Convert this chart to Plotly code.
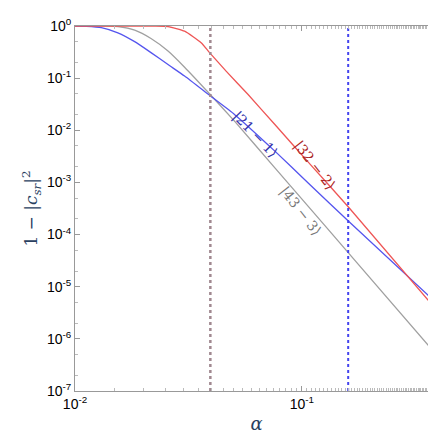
import plotly.graph_objects as go

blue_xlog = [-2.0, -1.95, -1.884, -1.811, -1.737, -1.665, -1.59, -1.517, -1.407, -1.296, -1.119, -0.97, -0.793, -0.4]
blue_log = [0.0, -0.005, -0.03, -0.13, -0.30, -0.51, -0.74, -0.96, -1.33, -1.70, -2.40, -3.02, -3.75, -5.34]
gray_xlog = [-2.0, -1.85, -1.811, -1.737, -1.665, -1.59, -1.517, -1.407, -1.296, -1.119, -0.97, -0.793, -0.4]
gray_log = [0.0, 0.0, -0.01, -0.08, -0.24, -0.48, -0.79, -1.30, -1.83, -2.72, -3.47, -4.36, -6.34]
red_xlog = [-2.0, -1.65, -1.59, -1.517, -1.444, -1.407, -1.333, -1.238, -1.119, -0.97, -0.793, -0.4]
red_log = [0.0, 0.0, -0.01, -0.10, -0.32, -0.51, -0.87, -1.31, -1.89, -2.62, -3.48, -5.48]
vlines = [0.0395, 0.16]
ytick_exp = [0, -1, -2, -3, -4, -5, -6, -7]
xtick_exp = [-2, -1]

fig = go.Figure()
for xs, ys, c in [(gray_xlog, gray_log, "#a0a0a0"), (blue_xlog, blue_log, "#5555ee"), (red_xlog, red_log, "#ee5555")]:
    fig.add_trace(go.Scatter(x=[10**v for v in xs], y=[10**v for v in ys], mode="lines",
                             line=dict(color=c, width=1.3, shape="spline", smoothing=0.5),
                             showlegend=False))
fig.add_trace(go.Scatter(x=[vlines[0]]*2, y=[1e-7, 1], mode="lines",
                         line=dict(color="#a08890", width=2.5, dash="dot"), showlegend=False))
fig.add_trace(go.Scatter(x=[vlines[1]]*2, y=[1e-7, 1], mode="lines",
                         line=dict(color="#4444ee", width=2, dash="dot"), showlegend=False))

for txt, xa, ya, col, ang in [("|21 − 1⟩", -1.207, -2.09, "#3333aa", 46),
                               ("|32 − 2⟩", -0.943, -2.67, "#aa2222", 52),
                               ("|43 − 3⟩", -1.004, -3.55, "#777777", 52)]:
    fig.add_annotation(x=xa, y=ya, text=txt, showarrow=False, textangle=ang,
                       font=dict(family="DejaVu Serif", size=14, color=col))

ax = dict(type="log", showgrid=False, zeroline=False, mirror="allticks", ticks="inside",
          showline=True, linecolor="#999", linewidth=1, tickcolor="#999", minor=dict(ticks="inside", ticklen=3, tickcolor="#bbb"),
          tickfont=dict(family="Liberation Sans", size=14, color="black"))
fig.update_xaxes(**ax, range=[-2, -0.4], tickvals=[10**e for e in xtick_exp],
                 ticktext=[f"10<sup>{e}</sup>" for e in xtick_exp],
                 title=dict(text="<i>α</i>", font=dict(family="DejaVu Serif", size=18), standoff=6))
fig.update_yaxes(**ax, range=[-7, 0], tickvals=[10**e for e in ytick_exp],
                 ticktext=[f"10<sup>{e}</sup>" for e in ytick_exp],
                 title=dict(text="1 − |<i>c</i><sub><i>sr</i></sub>|<sup>2</sup>",
                            font=dict(family="DejaVu Serif", size=17), standoff=4))
fig.update_layout(width=436, height=438, margin=dict(l=67, r=6, t=18, b=55),
                  plot_bgcolor="white", paper_bgcolor="white")
fig.write_html("out.html")
